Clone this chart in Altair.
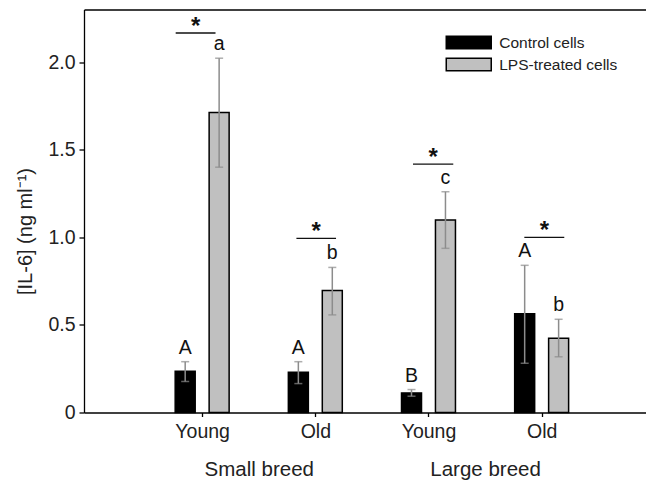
import altair as alt
import pandas as pd

# ---- data ----
groups = ["Young", "Old", "Young", "Old"]
breeds = ["Small breed", "Large breed"]
series = ["Control cells", "LPS-treated cells"]

control_mean = [0.235, 0.230, 0.112, 0.563]
control_lo = [0.177, 0.165, 0.093, 0.281]
control_hi = [0.290, 0.290, 0.131, 0.840]
control_letters = ["A", "A", "B", "A"]

lps_mean = [1.712, 0.696, 1.099, 0.424]
lps_lo = [1.400, 0.557, 0.937, 0.318]
lps_hi = [2.022, 0.828, 1.260, 0.532]
lps_letters = ["a", "b", "c", "b"]

# significance bars (in axis units)
sig_y = [2.166, 0.994, 1.418, 1.000]
sig_start = [0.766, 1.833, 2.863, 3.847]
sig_end = [1.118, 2.183, 3.219, 4.200]

# ---- build tables ----
OFF = 0.15
rows = []
for i in range(4):
    rows.append(dict(x=i + 1 - OFF, mean=control_mean[i], lo=control_lo[i], hi=control_hi[i],
                     letter=control_letters[i], series=series[0]))
    rows.append(dict(x=i + 1 + OFF, mean=lps_mean[i], lo=lps_lo[i], hi=lps_hi[i],
                     letter=lps_letters[i], series=series[1]))
df = pd.DataFrame(rows)

sig = pd.DataFrame(dict(x1=sig_start, x2=sig_end, y=sig_y))
sig["xm"] = (sig["x1"] + sig["x2"]) / 2
sig["star"] = "*"

breed_df = pd.DataFrame(dict(x=[1.5, 3.5], breed=breeds))

FONT = "Liberation Sans"
XMAX = 4.878
xscale = alt.Scale(domain=[0, XMAX], nice=False, zero=False)
yscale = alt.Scale(domain=[0, 2.3], nice=False, zero=True)

group_label_expr = " : ".join(
    [f"datum.value == {i + 1} ? '{g}'" for i, g in enumerate(groups)]) + " : ''"
breed_label_expr = f"datum.value < 2.5 ? '{breeds[0]}' : '{breeds[1]}'"

base = alt.Chart(df)

bars = base.mark_bar(size=20, stroke="black", strokeWidth=1.5).encode(
    x=alt.X("x:Q", scale=xscale,
            axis=alt.Axis(orient="bottom", values=[1, 2, 3, 4], labelExpr=group_label_expr,
                          title=None, grid=False, tickSize=4, labelPadding=6,
                          labelFontSize=19.5, domainColor="black", tickColor="black",
                          domainWidth=1.3, tickWidth=1.3, labelColor="#222222")),
    y=alt.Y("mean:Q", scale=yscale,
            axis=alt.Axis(values=[0, 0.5, 1, 1.5, 2],
                          labelExpr="datum.value == 0 ? '0' : format(datum.value, '.1f')",
                          title="[IL-6] (ng ml⁻¹)", grid=False, tickSize=5, labelPadding=4,
                          titlePadding=12, labelFontSize=19.5, titleFontSize=20,
                          titleFontWeight="normal", titleY=221.5,
                          domainColor="black", tickColor="black", domainWidth=1.3,
                          tickWidth=1.3, labelColor="#222222", titleColor="#222222")),
    color=alt.Color("series:N",
                    scale=alt.Scale(domain=series, range=["#000000", "#c0c0c0"]),
                    legend=alt.Legend(title=None, orient="none", legendX=372.75, legendY=21,
                                      symbolType="M-2,-0.56L2,-0.56L2,0.56L-2,0.56Z",
                                      symbolSize=506, symbolStrokeColor="black",
                                      symbolStrokeWidth=1.5, symbolOpacity=1,
                                      labelFontSize=15.5, labelOffset=18.5, rowPadding=0,
                                      labelColor="#222222")),
)

err = base.mark_rule(color="#8c8c8c", strokeWidth=1.5).encode(
    x=alt.X("x:Q", scale=xscale, axis=None),
    y=alt.Y("lo:Q", scale=yscale),
    y2="hi:Q",
)

caps = base.transform_fold(["lo", "hi"], as_=["k", "v"]).mark_tick(
    orient="horizontal", size=8, thickness=1.5, color="#8c8c8c").encode(
    x=alt.X("x:Q", scale=xscale, axis=None),
    y=alt.Y("v:Q", scale=yscale),
)

letters = base.mark_text(baseline="alphabetic", dy=-8, fontSize=19.5, font=FONT,
                         color="#111111").encode(
    x=alt.X("x:Q", scale=xscale, axis=None),
    y=alt.Y("hi:Q", scale=yscale),
    text="letter:N",
)

sig_lines = alt.Chart(sig).mark_rule(color="#111111", strokeWidth=1.3).encode(
    x=alt.X("x1:Q", scale=xscale, axis=None),
    x2="x2:Q",
    y=alt.Y("y:Q", scale=yscale),
)

stars = alt.Chart(sig).mark_text(baseline="alphabetic", dy=1, fontSize=24, fontWeight="bold",
                                 font=FONT, color="#111111").encode(
    x=alt.X("xm:Q", scale=xscale, axis=None),
    y=alt.Y("y:Q", scale=yscale),
    text="star:N",
)

breed_axis = alt.Chart(breed_df).mark_point(opacity=0).encode(
    x=alt.X("x:Q", scale=xscale,
            axis=alt.Axis(orient="bottom", values=[1.5, 3.5], labelExpr=breed_label_expr,
                          title=None, grid=False, domain=False, ticks=False, labelPadding=47,
                          labelFontSize=20.5, labelColor="#222222")),
)

top_frame = alt.Chart(breed_df).mark_point(opacity=0).encode(
    x=alt.X("x:Q", scale=xscale,
            axis=alt.Axis(orient="top", labels=False, ticks=False, grid=False, title=None,
                          domain=True, domainColor="black", domainWidth=1.3)),
)

chart = alt.layer(bars, err, caps, letters, sig_lines, stars, breed_axis, top_frame).resolve_axis(
    x="independent"
).properties(
    width=562, height=403,
    autosize=alt.AutoSizeParams(type="none"),
    padding={"left": 76, "top": 1.5, "right": 0, "bottom": 68},
).configure_view(stroke=None).configure_axis(
    labelFont=FONT, titleFont=FONT
).configure_legend(labelFont=FONT).configure_text(font=FONT)

chart.save("out.html", embed_options={"renderer": "svg", "actions": False})
